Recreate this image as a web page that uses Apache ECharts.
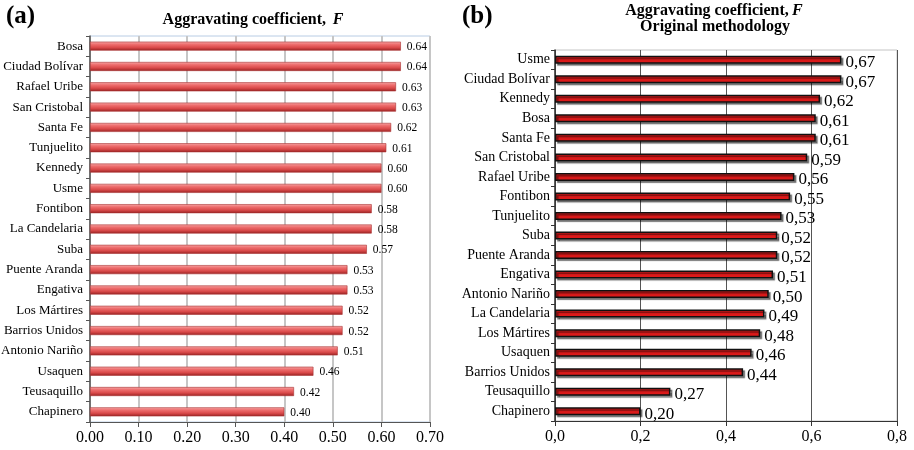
<!DOCTYPE html>
<html>
<head>
<meta charset="utf-8">
<script src="https://cdn.jsdelivr.net/npm/echarts@6/dist/echarts.min.js"></script>
<style>
html,body{margin:0;padding:0;background:#fff;}
#c{width:914px;height:450px;}
</style>
</head>
<body>
<div id="c"></div>
<script>
// Panel (a)
var catsA = ['Bosa','Ciudad Bolívar','Rafael Uribe','San Cristobal','Santa Fe','Tunjuelito','Kennedy','Usme','Fontibon','La Candelaria','Suba','Puente Aranda','Engativa','Los Mártires','Barrios Unidos','Antonio Nariño','Usaquen','Teusaquillo','Chapinero'];
var valsA = [0.64,0.64,0.63,0.63,0.62,0.61,0.60,0.60,0.58,0.58,0.57,0.53,0.53,0.52,0.52,0.51,0.46,0.42,0.40];
// Panel (b)
var catsB = ['Usme','Ciudad Bolívar','Kennedy','Bosa','Santa Fe','San Cristobal','Rafael Uribe','Fontibon','Tunjuelito','Suba','Puente Aranda','Engativa','Antonio Nariño','La Candelaria','Los Mártires','Usaquen','Barrios Unidos','Teusaquillo','Chapinero'];
var valsB = [0.67,0.67,0.62,0.61,0.61,0.59,0.56,0.55,0.53,0.52,0.52,0.51,0.50,0.49,0.48,0.46,0.44,0.27,0.20];

var serif = '"Liberation Serif","Times New Roman",serif';
var chart = echarts.init(document.getElementById('c'));

var gradA = new echarts.graphic.LinearGradient(0,0,0,1,[
  {offset:0,color:'#f6a8a8'},
  {offset:0.3,color:'#ee6e6e'},
  {offset:0.65,color:'#da4a4a'},
  {offset:1,color:'#982222'}
]);

chart.setOption({
  animation:false,
  backgroundColor:'#fff',
  graphic:[
    {type:'text',left:6,top:4,style:{text:'(a)',font:'bold 25px '+serif,fill:'#000'}},
    {type:'text',left:462,top:4,style:{text:'(b)',font:'bold 25px '+serif,fill:'#000'}},
    {type:'text',x:253,y:20,style:{text:'{b|Aggravating coefficient,}  {i|F}',textAlign:'center',textVerticalAlign:'middle',
      rich:{b:{font:'bold 16px '+serif,fill:'#000'},i:{font:'italic bold 16px '+serif,fill:'#000'}}}},
    {type:'text',x:714,y:11,style:{text:'{b|Aggravating coefficient,} {i|F}',textAlign:'center',textVerticalAlign:'middle',
      rich:{b:{font:'bold 16px '+serif,fill:'#000'},i:{font:'italic bold 16px '+serif,fill:'#000'}}}},
    {type:'text',x:715,y:27,style:{text:'Original methodology',textAlign:'center',textVerticalAlign:'middle',font:'bold 16px '+serif,fill:'#000'}}
  ],
  grid:[
    {left:90,top:36,width:340,height:386,show:true,borderColor:'#b8cce4',borderWidth:1,backgroundColor:'transparent',containLabel:false,outerBoundsMode:'none'},
    {left:555,top:50,width:342,height:371,show:true,borderColor:'#c4c4c4',borderWidth:1,backgroundColor:'transparent',containLabel:false,outerBoundsMode:'none'}
  ],
  xAxis:[
    {gridIndex:0,type:'value',min:0,max:0.7,interval:0.1,
      axisLine:{show:true,lineStyle:{color:'#555',width:1}},
      axisTick:{show:true,length:5,lineStyle:{color:'#555'}},
      axisLabel:{color:'#000',fontFamily:serif,fontSize:16,margin:8,formatter:function(v){return v.toFixed(2);}},
      splitLine:{show:true,lineStyle:{color:'#c6c6c6',width:2}}
    },
    {gridIndex:1,type:'value',min:0,max:0.8,interval:0.2,
      axisLine:{show:true,lineStyle:{color:'#333',width:1}},
      axisTick:{show:true,length:5,lineStyle:{color:'#333'}},
      axisLabel:{color:'#000',fontFamily:serif,fontSize:16,margin:8,formatter:function(v){return v.toFixed(1).replace('.',',');}},
      splitLine:{show:true,lineStyle:{color:'#555',width:1}}
    }
  ],
  yAxis:[
    {gridIndex:0,type:'category',data:catsA,inverse:true,
      axisLine:{show:true,lineStyle:{color:'#555',width:1.5}},
      axisTick:{show:true,length:4,lineStyle:{color:'#555'}},
      axisLabel:{color:'#000',fontFamily:serif,fontSize:13,margin:7}
    },
    {gridIndex:1,type:'category',data:catsB,inverse:true,
      axisLine:{show:true,lineStyle:{color:'#333',width:1.5}},
      axisTick:{show:true,length:4,lineStyle:{color:'#333'}},
      axisLabel:{color:'#000',fontFamily:serif,fontSize:14,margin:5}
    }
  ],
  series:[
    {type:'bar',xAxisIndex:0,yAxisIndex:0,data:valsA,barWidth:9,
      itemStyle:{color:gradA,borderColor:'#a83030',borderWidth:0.6},
      label:{show:true,position:'right',distance:6,offset:[0,1],color:'#000',fontFamily:serif,fontSize:11.5,
        formatter:function(p){return p.value.toFixed(2);}}
    },
    {type:'bar',xAxisIndex:1,yAxisIndex:1,data:valsB,barWidth:8,
      itemStyle:{color:'#dc1a1a',borderColor:'#111',borderWidth:1.5,shadowColor:'rgba(0,0,0,0.45)',shadowOffsetX:2,shadowOffsetY:2,shadowBlur:1},
      label:{show:true,position:'right',distance:4,offset:[0,3],color:'#000',fontFamily:serif,fontSize:17,
        formatter:function(p){return p.value.toFixed(2).replace('.',',');}}
    }
  ]
});
</script>
</body>
</html>
